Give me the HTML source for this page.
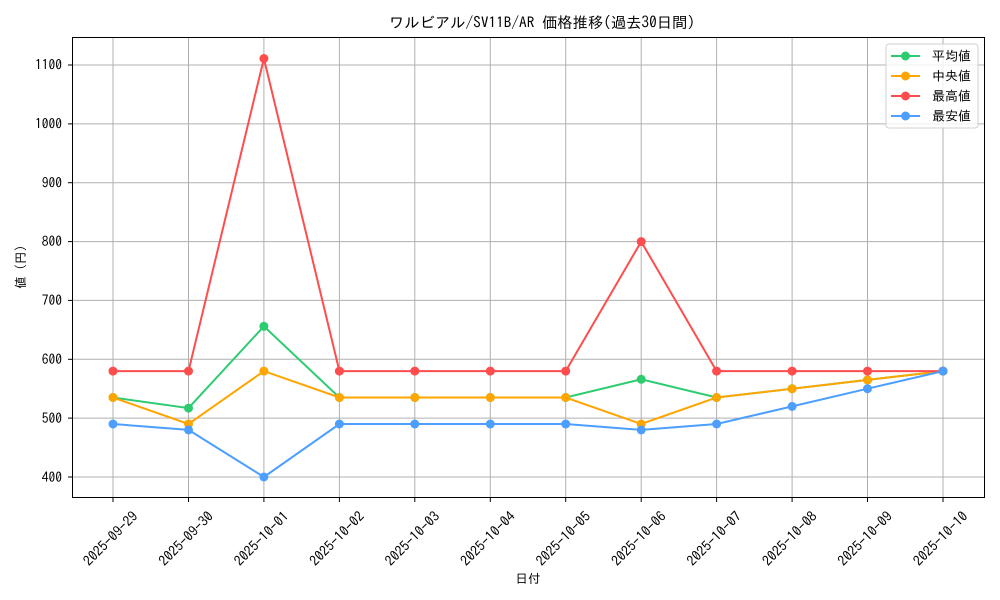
<!DOCTYPE html>
<html><head><meta charset="utf-8"><style>body{margin:0;background:#fff}svg{display:block}text{font-family:"IPAGothic","Liberation Sans","Noto Sans CJK JP",sans-serif;fill:#000}</style></head><body>
<svg width="1000" height="600" xmlns="http://www.w3.org/2000/svg">
<rect width="1000" height="600" fill="#fff"/>
<text x="542" y="28" font-size="15.3" text-anchor="middle">ワルビアル/SV11B/AR 価格推移(過去30日間)</text>
<g stroke="#b0b0b0" stroke-width="1">
<line x1="113" y1="37.5" x2="113" y2="497.5"/><line x1="188.5" y1="37.5" x2="188.5" y2="497.5"/><line x1="263.9" y1="37.5" x2="263.9" y2="497.5"/><line x1="339.4" y1="37.5" x2="339.4" y2="497.5"/><line x1="414.8" y1="37.5" x2="414.8" y2="497.5"/><line x1="490.3" y1="37.5" x2="490.3" y2="497.5"/><line x1="565.7" y1="37.5" x2="565.7" y2="497.5"/><line x1="641.2" y1="37.5" x2="641.2" y2="497.5"/><line x1="716.6" y1="37.5" x2="716.6" y2="497.5"/><line x1="792.1" y1="37.5" x2="792.1" y2="497.5"/><line x1="867.5" y1="37.5" x2="867.5" y2="497.5"/><line x1="943" y1="37.5" x2="943" y2="497.5"/>
<line x1="72.5" y1="477" x2="984.5" y2="477"/><line x1="72.5" y1="418.1" x2="984.5" y2="418.1"/><line x1="72.5" y1="359.3" x2="984.5" y2="359.3"/><line x1="72.5" y1="300.4" x2="984.5" y2="300.4"/><line x1="72.5" y1="241.6" x2="984.5" y2="241.6"/><line x1="72.5" y1="182.7" x2="984.5" y2="182.7"/><line x1="72.5" y1="123.9" x2="984.5" y2="123.9"/><line x1="72.5" y1="65" x2="984.5" y2="65"/>
</g>
<rect x="72.5" y="37.5" width="912" height="460" fill="none" stroke="#000" stroke-width="1"/>
<g stroke="#000"><line x1="68" y1="477" x2="72.5" y2="477"/><line x1="68" y1="418.1" x2="72.5" y2="418.1"/><line x1="68" y1="359.3" x2="72.5" y2="359.3"/><line x1="68" y1="300.4" x2="72.5" y2="300.4"/><line x1="68" y1="241.6" x2="72.5" y2="241.6"/><line x1="68" y1="182.7" x2="72.5" y2="182.7"/><line x1="68" y1="123.9" x2="72.5" y2="123.9"/><line x1="68" y1="65" x2="72.5" y2="65"/></g>
<g font-size="13.5" text-anchor="end"><text x="62" y="482">400</text><text x="62" y="423">500</text><text x="62" y="364">600</text><text x="62" y="305">700</text><text x="62" y="246">800</text><text x="62" y="187.5">900</text><text x="62" y="128.5">1000</text><text x="62" y="69.5">1100</text></g>
<g stroke="#000"><line x1="113" y1="497.5" x2="113" y2="502"/><line x1="188.5" y1="497.5" x2="188.5" y2="502"/><line x1="263.9" y1="497.5" x2="263.9" y2="502"/><line x1="339.4" y1="497.5" x2="339.4" y2="502"/><line x1="414.8" y1="497.5" x2="414.8" y2="502"/><line x1="490.3" y1="497.5" x2="490.3" y2="502"/><line x1="565.7" y1="497.5" x2="565.7" y2="502"/><line x1="641.2" y1="497.5" x2="641.2" y2="502"/><line x1="716.6" y1="497.5" x2="716.6" y2="502"/><line x1="792.1" y1="497.5" x2="792.1" y2="502"/><line x1="867.5" y1="497.5" x2="867.5" y2="502"/><line x1="943" y1="497.5" x2="943" y2="502"/></g>
<g font-size="14" text-anchor="middle">
<text transform="translate(114,542) rotate(-45)">2025-09-29</text><text transform="translate(189.5,542) rotate(-45)">2025-09-30</text><text transform="translate(264.9,542) rotate(-45)">2025-10-01</text><text transform="translate(340.4,542) rotate(-45)">2025-10-02</text><text transform="translate(415.8,542) rotate(-45)">2025-10-03</text><text transform="translate(491.3,542) rotate(-45)">2025-10-04</text><text transform="translate(566.7,542) rotate(-45)">2025-10-05</text><text transform="translate(642.2,542) rotate(-45)">2025-10-06</text><text transform="translate(717.6,542) rotate(-45)">2025-10-07</text><text transform="translate(793.1,542) rotate(-45)">2025-10-08</text><text transform="translate(868.5,542) rotate(-45)">2025-10-09</text><text transform="translate(944,542) rotate(-45)">2025-10-10</text>
</g>
<text x="528" y="583" font-size="12.5" text-anchor="middle">日付</text>
<text transform="translate(25,267) rotate(-90)" font-size="12.5" text-anchor="middle">値 (円)</text>
<g fill="none" stroke-width="2">
<polyline stroke="#2ecc71" points="113,397.5 188.5,408.1 263.9,326.3 339.4,397.5 414.8,397.5 490.3,397.5 565.7,397.5 641.2,379.3 716.6,397.5 792.1,388.7 867.5,379.9 943,371.1"/>
<polyline stroke="#ffa500" points="113,397.5 188.5,424 263.9,371.1 339.4,397.5 414.8,397.5 490.3,397.5 565.7,397.5 641.2,424 716.6,397.5 792.1,388.7 867.5,379.9 943,371.1"/>
<polyline stroke="#ff4d4d" points="113,371.1 188.5,371.1 263.9,58.5 339.4,371.1 414.8,371.1 490.3,371.1 565.7,371.1 641.2,241.6 716.6,371.1 792.1,371.1 867.5,371.1 943,371.1"/>
<polyline stroke="#4d9fff" points="113,424 188.5,429.9 263.9,477 339.4,424 414.8,424 490.3,424 565.7,424 641.2,429.9 716.6,424 792.1,406.4 867.5,388.7 943,371.1"/>
</g>
<g fill="#2ecc71"><circle cx="113" cy="397.5" r="4.5"/><circle cx="188.5" cy="408.1" r="4.5"/><circle cx="263.9" cy="326.3" r="4.5"/><circle cx="339.4" cy="397.5" r="4.5"/><circle cx="414.8" cy="397.5" r="4.5"/><circle cx="490.3" cy="397.5" r="4.5"/><circle cx="565.7" cy="397.5" r="4.5"/><circle cx="641.2" cy="379.3" r="4.5"/><circle cx="716.6" cy="397.5" r="4.5"/><circle cx="792.1" cy="388.7" r="4.5"/><circle cx="867.5" cy="379.9" r="4.5"/><circle cx="943" cy="371.1" r="4.5"/></g>
<g fill="#ffa500"><circle cx="113" cy="397.5" r="4.5"/><circle cx="188.5" cy="424" r="4.5"/><circle cx="263.9" cy="371.1" r="4.5"/><circle cx="339.4" cy="397.5" r="4.5"/><circle cx="414.8" cy="397.5" r="4.5"/><circle cx="490.3" cy="397.5" r="4.5"/><circle cx="565.7" cy="397.5" r="4.5"/><circle cx="641.2" cy="424" r="4.5"/><circle cx="716.6" cy="397.5" r="4.5"/><circle cx="792.1" cy="388.7" r="4.5"/><circle cx="867.5" cy="379.9" r="4.5"/><circle cx="943" cy="371.1" r="4.5"/></g>
<g fill="#ff4d4d"><circle cx="113" cy="371.1" r="4.5"/><circle cx="188.5" cy="371.1" r="4.5"/><circle cx="263.9" cy="58.5" r="4.5"/><circle cx="339.4" cy="371.1" r="4.5"/><circle cx="414.8" cy="371.1" r="4.5"/><circle cx="490.3" cy="371.1" r="4.5"/><circle cx="565.7" cy="371.1" r="4.5"/><circle cx="641.2" cy="241.6" r="4.5"/><circle cx="716.6" cy="371.1" r="4.5"/><circle cx="792.1" cy="371.1" r="4.5"/><circle cx="867.5" cy="371.1" r="4.5"/><circle cx="943" cy="371.1" r="4.5"/></g>
<g fill="#4d9fff"><circle cx="113" cy="424" r="4.5"/><circle cx="188.5" cy="429.9" r="4.5"/><circle cx="263.9" cy="477" r="4.5"/><circle cx="339.4" cy="424" r="4.5"/><circle cx="414.8" cy="424" r="4.5"/><circle cx="490.3" cy="424" r="4.5"/><circle cx="565.7" cy="424" r="4.5"/><circle cx="641.2" cy="429.9" r="4.5"/><circle cx="716.6" cy="424" r="4.5"/><circle cx="792.1" cy="406.4" r="4.5"/><circle cx="867.5" cy="388.7" r="4.5"/><circle cx="943" cy="371.1" r="4.5"/></g>
<rect x="886" y="44" width="92" height="84" rx="3" fill="#fff" fill-opacity="0.8" stroke="#d0d0d0"/>
<g stroke-width="2"><line x1="891" y1="56" x2="920" y2="56" stroke="#2ecc71"/><line x1="891" y1="76" x2="920" y2="76" stroke="#ffa500"/><line x1="891" y1="96" x2="920" y2="96" stroke="#ff4d4d"/><line x1="891" y1="116" x2="920" y2="116" stroke="#4d9fff"/></g>
<circle cx="905.5" cy="56" r="4.5" fill="#2ecc71"/><circle cx="905.5" cy="76" r="4.5" fill="#ffa500"/><circle cx="905.5" cy="96" r="4.5" fill="#ff4d4d"/><circle cx="905.5" cy="116" r="4.5" fill="#4d9fff"/>
<g font-size="13"><text x="932" y="60.5">平均値</text><text x="932" y="80.5"> 中央値</text><text x="932" y="100.5">最高値</text><text x="932" y="120.5">最安値</text></g>
</svg>
</body></html>
